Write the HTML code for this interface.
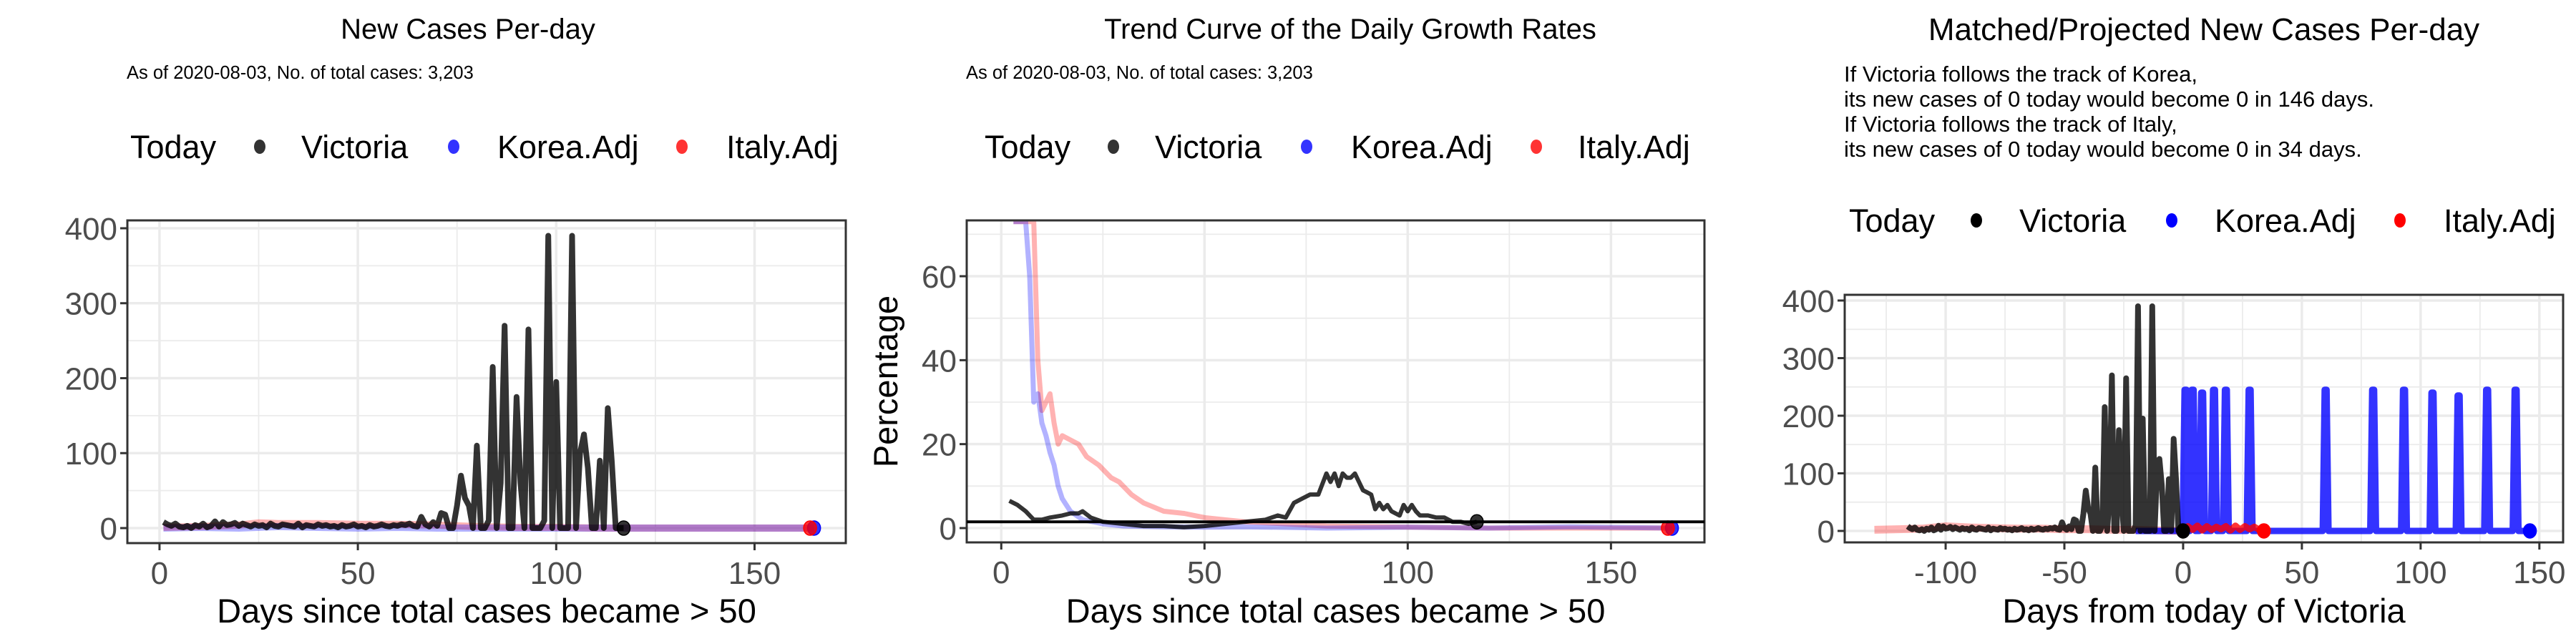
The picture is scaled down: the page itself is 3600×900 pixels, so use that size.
<!DOCTYPE html>
<html><head><meta charset="utf-8"><style>
html,body{margin:0;padding:0;background:#fff;}
svg{display:block;}
text{font-family:"Liberation Sans",sans-serif;}
.tick{font-size:44px;fill:#4d4d4d;}
.atitle{font-size:47px;fill:#000;}
.title{font-size:40px;fill:#000;}
.title3{font-size:44px;fill:#000;}
.sub{font-size:25.5px;fill:#000;}
.note{font-size:31px;fill:#000;}
.leg{font-size:45px;fill:#000;}
</style></head><body>
<svg id="chart" width="3600" height="900" viewBox="0 0 3600 900" xmlns="http://www.w3.org/2000/svg"></svg>
<script>
// ---------- DATA ----------
const vicCasesEarly = [8,5,3,6,2,1,3,0,4,2,6,1,3,9,2,8,4,5,7,3,6,4,2,5,3,4,1,6,3,2,5,4,3,2,6,1,4,3,2,5,3,4,2,3,1,4,2,3,5,2,3,1,4,2,3,5,3,2,4,3,5,4,6,3,2,15,5,2,8,3];
const vicCasesLate = [20,18,0,0,30,70,40,30,0,110,0,0,10,215,0,60,270,0,0,175,60,0,265,0,0,0,10,390,0,195,0,0,0,390,0,100,125,80,0,0,90,0,160,90,0,0,0];
const koreaAdjDays = [1,10,20,30,40,50,60,70,80,90,100,110,120,130,140,150,160,165];
const koreaAdjCases = [0,1,0,2,1,0,1,0,0,0,0,0,0,0,0,0,0,0];
const italyAdjDays = [1,10,20,25,30,40,50,60,70,75,80,90,100,110,120,130,140,150,164];
const italyAdjCases = [1,2,4,7,6,6,5,5,4,3,2,1,1,0,0,0,0,0,0];

const vicGrowthDays = [2,4,6,8,10,12,15,17,19,20,22,25,30,35,40,45,50,55,60,65,68,70,72,74,76,78,80,81,82,83,84,85,86,87,88,89,90,91,92,93,94,95,96,97,98,99,100,101,102,103,105,107,109,111,113,115,117];
const vicGrowthVals = [6.5,5.5,4,2,2,2.5,3,3.5,3.5,4,2.5,1.5,1,0.5,0.5,0.2,0.5,1,1.5,2,3,2.5,6,7,8,8,13,11,13,10,13,12,12,13,11,9,8.5,8,4.5,6,4.5,5.5,4,3.5,3,5.5,4,5.5,4,3,3,2.5,2.5,1.5,1.5,1,1.5];
const koreaGrowthDays = [3,6,7,8,9,10,11,12,13,14,15,17,20,25,30,40,50,60,80,100,120,140,165];
const koreaGrowthVals = [73,73,60,30,32,25,22,18,15,10,7,4,2,1,0.5,0.3,0.2,0.3,0,0.2,0,0.3,0];
const italyGrowthDays = [3,8,9,10,11,12,13,14,15,17,19,21,24,27,29,32,35,40,45,50,55,60,70,80,100,120,140,164];
const italyGrowthVals = [73,73,40,28,30,32,25,20,22,21,20,17,15,12,11,8,6,4,3.5,2.5,2,1.5,1,0.5,0.2,0,0,0];
const refGrowth = 1.5;

const italyProjDays = [-130,-120,-110,-100,-90,-80,-70,-60,-50,-40,-30,-20,-10,0,2,4,6,8,10,12,14,16,18,20,22,24,26,28,30,32,34];
const italyProjVals = [2,3,4,8,6,5,4,4,3,3,2,2,1,0,8,2,9,1,8,2,7,3,8,1,9,2,8,3,7,2,0];
const koreaSpikeDays = [1,4,8,13,18,28,60,80,93,105,116,128,140];
const koreaSpikeVals = [245,245,240,245,245,245,245,245,245,240,235,245,245];
const koreaProjEnd = 146;

const xTicks1 = [0,50,100,150];
const yTicks1 = [0,100,200,300,400];
const yTicks2 = [0,20,40,60];
const xTicks3 = [-100,-50,0,50,100,150];

// ---------- HELPERS ----------
const svg = document.getElementById('chart');
const NS = 'http://www.w3.org/2000/svg';
function mk(tag, attrs, parent){const e=document.createElementNS(NS,tag);for(const k in attrs)e.setAttribute(k,attrs[k]);(parent||svg).appendChild(e);return e;}
function txt(x,y,s,cls,anchor,parent){const t=mk('text',{x:x,y:y,class:cls,'text-anchor':anchor||'start'},parent);t.textContent=s;return t;}
function scale(d0,d1,r0,r1){return v=>r0+(v-d0)*(r1-r0)/(d1-d0);}

function panel(cfg){
  const g=mk('g',{});
  
  
  const X=scale(cfg.xd[0],cfg.xd[1],cfg.L,cfg.R), Y=scale(cfg.yd[0],cfg.yd[1],cfg.B,cfg.T);
  for(let i=0;i<cfg.xt.length-1;i++){const v=(cfg.xt[i]+cfg.xt[i+1])/2;mk('line',{x1:X(v),x2:X(v),y1:cfg.T,y2:cfg.B,stroke:'#ebebeb','stroke-width':1.8},g);}
  for(let i=0;i<cfg.yt.length-1;i++){const v=(cfg.yt[i]+cfg.yt[i+1])/2;mk('line',{x1:cfg.L,x2:cfg.R,y1:Y(v),y2:Y(v),stroke:'#ebebeb','stroke-width':1.8},g);}
  if(cfg.extraMinorY){cfg.extraMinorY.forEach(v=>mk('line',{x1:cfg.L,x2:cfg.R,y1:Y(v),y2:Y(v),stroke:'#ebebeb','stroke-width':1.8},g));}
  if(cfg.extraMinorX){cfg.extraMinorX.forEach(v=>mk('line',{x1:X(v),x2:X(v),y1:cfg.T,y2:cfg.B,stroke:'#ebebeb','stroke-width':1.8},g));}
  cfg.xt.forEach(v=>mk('line',{x1:X(v),x2:X(v),y1:cfg.T,y2:cfg.B,stroke:'#ebebeb','stroke-width':3.5},g));
  cfg.yt.forEach(v=>mk('line',{x1:cfg.L,x2:cfg.R,y1:Y(v),y2:Y(v),stroke:'#ebebeb','stroke-width':3.5},g));
  const cid='clip'+cfg.name;
  const cp=mk('clipPath',{id:cid},g);mk('rect',{x:cfg.L,y:cfg.T,width:cfg.R-cfg.L,height:cfg.B-cfg.T},cp);
  const data=mk('g',{'clip-path':'url(#'+cid+')'},g);
  cfg.xt.forEach(v=>{mk('line',{x1:X(v),x2:X(v),y1:cfg.B,y2:cfg.B+10,stroke:'#333','stroke-width':3},g);
    const t=txt(X(v),cfg.B+57,String(v),'tick','middle',g);
    
    });
  cfg.yt.forEach(v=>{mk('line',{x1:cfg.L-10,x2:cfg.L,y1:Y(v),y2:Y(v),stroke:'#333','stroke-width':3},g);
    const t=txt(cfg.L-14,Y(v)+16,String(v),'tick','end',g);
    
    });
  mk('rect',{x:cfg.L,y:cfg.T,width:cfg.R-cfg.L,height:cfg.B-cfg.T,fill:'none',stroke:'#333','stroke-width':3},g);
  const at=txt((cfg.L+cfg.R)/2,870,cfg.xtitle,'atitle','middle',g);
  
  
  return {g:data,X:X,Y:Y,root:g};
}
function line(p,xs,ys,color,w,op,name){
  const d=xs.map((x,i)=>(i?'L':'M')+p.X(x).toFixed(1)+','+p.Y(ys[i]).toFixed(1)).join('');
  const e=mk('path',{d:d,fill:'none',stroke:color,'stroke-width':w,'stroke-opacity':op,'stroke-linejoin':'round'},p.g);
  
  
  return e;
}
function dot(p,x,y,color,op,name){
  const e=mk('ellipse',{cx:p.X(x),cy:p.Y(y),rx:9,ry:10,fill:color,'fill-opacity':op,stroke:color,'stroke-width':1.5},p.root);
  
  
}
function legend(x0,y,pos,colors){
  const g=mk('g',{});
  
  
  txt(x0,y+16,'Today','leg','start',g);
  const names=['Victoria','Korea.Adj','Italy.Adj'];
  names.forEach((n,i)=>{
    const c=mk('ellipse',{cx:pos[i][0],cy:y,rx:8,ry:10,fill:colors[i]},g);
    
    
    const t=txt(pos[i][1],y+16,n,'leg','start',g);
    
    
  });
}

// ---------- PANEL 1 ----------
const vicDays=[];const vicCases=vicCasesEarly.concat(vicCasesLate);
for(let i=0;i<vicCases.length;i++)vicDays.push(i+1);
const p1=panel({name:'new-cases-panel',L:178,R:1182,T:308,B:759,xd:[-8.1,173],yd:[-20.05,410.5],xt:xTicks1,yt:yTicks1,xtitle:'Days since total cases became > 50'});
line(p1,italyAdjDays,italyAdjCases,'#ff0000',10,0.3,'italy-adj-line');
line(p1,koreaAdjDays,koreaAdjCases,'#0000ff',10,0.3,'korea-adj-line');
line(p1,vicDays,vicCases,'#000000',8,0.8,'victoria-line');
dot(p1,vicDays[vicDays.length-1],vicCases[vicCases.length-1],'#000',0.8,'victoria-today-dot');
dot(p1,koreaAdjDays[koreaAdjDays.length-1],0,'#0000ff',0.8,'korea-today-dot');
dot(p1,italyAdjDays[italyAdjDays.length-1],0,'#ff0000',0.8,'italy-today-dot');
{const t=txt(654,54,'New Cases Per-day','title','middle');}
{const t=txt(177,110,'As of 2020-08-03, No. of total cases: 3,203','sub','start');}
legend(182,205,[[363,421],[634,695],[953,1015]],['#333','#3333ff','#ff3333']);

// ---------- PANEL 2 ----------
const p2=panel({name:'growth-rate-panel',L:1351,R:2382,T:308,B:758,xd:[-8.5,173],yd:[-3.41,73.3],xt:xTicks1,yt:yTicks2,extraMinorY:[70],xtitle:'Days since total cases became > 50'});
line(p2,italyGrowthDays,italyGrowthVals,'#ff0000',7,0.3,'italy-growth-line');
line(p2,koreaGrowthDays,koreaGrowthVals,'#0000ff',7,0.3,'korea-growth-line');
line(p2,vicGrowthDays,vicGrowthVals,'#000000',6,0.8,'victoria-growth-line');
{const e=mk('line',{x1:1351,x2:2382,y1:p2.Y(refGrowth),y2:p2.Y(refGrowth),stroke:'#000','stroke-width':4});}
dot(p2,vicGrowthDays[vicGrowthDays.length-1],vicGrowthVals[vicGrowthVals.length-1],'#000',0.8,'victoria-today-dot');
dot(p2,koreaGrowthDays[koreaGrowthDays.length-1],0,'#0000ff',0.8,'korea-today-dot');
dot(p2,italyGrowthDays[italyGrowthDays.length-1],0,'#ff0000',0.8,'italy-today-dot');
{const t=mk('text',{x:0,y:0,class:'atitle',transform:'translate(1254,533) rotate(-90)','text-anchor':'middle'});t.textContent='Percentage';}
{const t=txt(1887,54,'Trend Curve of the Daily Growth Rates','title','middle');}
{const t=txt(1350,110,'As of 2020-08-03, No. of total cases: 3,203','sub','start');}
legend(1376,205,[[1556,1614],[1826,1888],[2147,2205]],['#333','#3333ff','#ff3333']);

// ---------- PANEL 3 ----------
const p3=panel({name:'projection-panel',L:2578,R:3582,T:412,B:758,xd:[-142.5,160],yd:[-19.9,409.9],xt:xTicks3,yt:yTicks1,extraMinorX:[-125],xtitle:'Days from today of Victoria'});
const vicShift=vicDays.map(d=>d-vicDays[vicDays.length-1]);
const nPre=italyProjDays.filter(d=>d<=0).length;
line(p3,italyProjDays.slice(0,nPre),italyProjVals.slice(0,nPre),'#ff0000',11,0.3,'italy-matched-line');
const kx=[-20],ky=[0];
koreaSpikeDays.forEach((d,i)=>{kx.push(d-1.2,d-0.4,d+0.4,d+1.2);ky.push(0,koreaSpikeVals[i],koreaSpikeVals[i],0);});
kx.push(koreaProjEnd);ky.push(0);
line(p3,kx,ky,'#0000ff',9,0.8,'korea-projected-line');
line(p3,vicShift,vicCases,'#000000',8,0.8,'victoria-matched-line');
line(p3,italyProjDays.slice(nPre-1),italyProjVals.slice(nPre-1),'#ff0000',9,0.8,'italy-projected-line');
dot(p3,0,0,'#000',1,'victoria-today-dot');
dot(p3,italyProjDays[italyProjDays.length-1],0,'#ff0000',1,'italy-end-dot');
dot(p3,koreaProjEnd,0,'#0000ff',1,'korea-end-dot');
{const t=txt(3080,56,'Matched/Projected New Cases Per-day','title3','middle');}
const notes=['If Victoria follows the track of Korea,','its new cases of 0 today would become 0 in 146 days.','If Victoria follows the track of Italy,','its new cases of 0 today would become 0 in 34 days.'];
notes.forEach((s,i)=>{const t=txt(2577,114+i*35,s,'note','start');});
legend(2584,308,[[2762,2822],[3035,3095],[3354,3415]],['#000','#0000ff','#ff0000']);
</script>
</body></html>
